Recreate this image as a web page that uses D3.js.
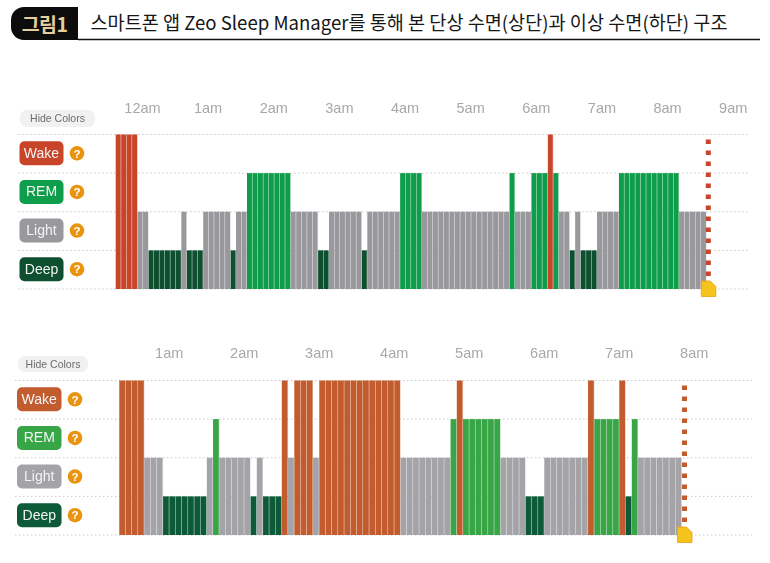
<!DOCTYPE html>
<html><head><meta charset="utf-8">
<script src="https://cdn.jsdelivr.net/npm/d3@7"></script>
<style>html,body{margin:0;padding:0;background:#fff}svg{display:block}</style>
</head><body><svg id="c" width="770" height="563"><defs><filter id="soft" x="-2%" y="-2%" width="104%" height="104%"><feGaussianBlur stdDeviation="0.4"/></filter></defs></svg>
<script>
const titleBadge = "그림1";
const titleText = "스마트폰 앱 Zeo Sleep Manager를 통해 본 단상 수면(상단)과 이상 수면(하단) 구조";
const stages = ["Wake","REM","Light","Deep"];

// run-length: stage and number of 5-minute epochs
const topRunStages = ["Wake","Light","Deep","Light","Deep","Light","Deep","Light","REM","Light","Deep","Light","Deep","Light","REM","Light","REM","Light","REM","Wake","REM","Light","Deep","Light","Deep","Light","REM","Light"];
const topRunLengths = [4,2,6,1,3,5,1,2,8,5,2,6,1,6,4,16,1,3,3,1,1,2,1,1,3,4,11,5];
const topHourLabels = ["12am","1am","2am","3am","4am","5am","6am","7am","8am","9am"];

const botRunStages = ["Wake","Light","Deep","Light","REM","Light","Deep","Light","Deep","Wake","Light","Wake","Light","Wake","Light","REM","Wake","REM","Light","Deep","Light","Wake","REM","Wake","Deep","REM","Light"];
const botRunLengths = [4,3,7,1,1,5,1,1,3,1,1,3,1,13,8,1,1,6,4,3,7,1,4,1,1,1,7];
const botHourLabels = ["1am","2am","3am","4am","5am","6am","7am","8am"];

const svg = d3.select("#c");
const sans = "'Liberation Sans',Arial,sans-serif";
const kr = "'Noto Sans CJK KR','Noto Sans',sans-serif";

// title
svg.append("path").attr("d","M78,7H24a13,13 0 0 0 -13,13V27a13,13 0 0 0 13,13H78Z").attr("fill","#0c0c0c");
svg.append("text").attr("x",44.5).attr("y",31.5).attr("text-anchor","middle").attr("font-family",kr).attr("font-weight",700).attr("font-size",19.5).attr("letter-spacing",-0.6).attr("fill","#e6cf9c").text(titleBadge);
svg.append("text").attr("x",90.5).attr("y",30).attr("font-family",kr).attr("font-weight",400).attr("font-size",19).attr("textLength",637).attr("lengthAdjust","spacingAndGlyphs").attr("fill","#161616").text(titleText);
svg.append("line").attr("x1",78).attr("x2",760).attr("y1",39.5).attr("y2",39.5).attr("stroke","#111").attr("stroke-width",1.5);

function hypnogram(o){
  const g = svg.append("g").attr("filter","url(#soft)");
  const x = d3.scaleLinear().domain([0,1]).range([o.x0,o.x0+o.epoch]);
  const y = d3.scalePoint().domain(stages.concat(["base"])).range([o.yTop,o.yBase]);
  const seq = o.runStages.flatMap((s,i)=>d3.range(o.runLengths[i]).map(()=>s));

  // grid
  g.append("g").selectAll("line").data(y.domain()).join("line")
    .attr("x1",o.gridX0).attr("x2",o.gridX1).attr("y1",d=>y(d)).attr("y2",d=>y(d))
    .attr("stroke","#c8c8c8").attr("stroke-width",1).attr("stroke-dasharray","1.5 2.5");

  // hour labels via axis
  const ax = d3.axisTop(x).tickValues(o.hourLabels.map((_,i)=>o.firstHour+i*12)).tickFormat((_,i)=>o.hourLabels[i]).tickSize(0).tickPadding(0);
  const axg = g.append("g").attr("transform",`translate(0,${o.labelY})`).call(ax);
  axg.select(".domain").remove();
  axg.selectAll("text").attr("font-family",sans).attr("font-size",14.5).attr("fill","#a8a8a8");

  // bars
  g.append("g").selectAll("rect").data(seq).join("rect")
    .attr("x",(d,i)=>x(i)).attr("width",o.epoch-0.5)
    .attr("y",d=>y(d)).attr("height",d=>o.yBase-y(d))
    .attr("fill",d=>o.colors[d]);
  // joining strip so the light seams stay pale rather than white
  g.append("g").selectAll("rect").data(seq).join("rect")
    .attr("x",(d,i)=>x(i)+o.epoch-0.5).attr("width",0.5)
    .attr("y",d=>y(d)).attr("height",d=>o.yBase-y(d))
    .attr("fill",d=>o.colors[d]).attr("opacity",0.35);

  // legend
  const lg = g.append("g");
  const pill = lg.append("g");
  pill.append("rect").attr("x",o.pill[0]).attr("y",o.pill[1]).attr("width",o.pill[2]).attr("height",o.pill[3]).attr("rx",7).attr("fill","#f1f1f1");
  pill.append("text").attr("x",o.pill[0]+o.pill[2]/2).attr("y",o.pill[1]+o.pill[3]/2+3.7).attr("text-anchor","middle").attr("font-family",sans).attr("font-size",10.5).attr("fill","#6c6c6c").text("Hide Colors");
  const rows = lg.selectAll("g.row").data(stages).join("g").attr("class","row");
  const cy = d=>(y(d)+y(stages[stages.indexOf(d)+1]||"base"))/2;
  rows.append("rect").attr("x",o.btnX).attr("y",d=>cy(d)-12.5).attr("width",o.btnW).attr("height",24).attr("rx",5).attr("fill",d=>o.colors[d]);
  rows.append("text").attr("x",o.btnX+o.btnW/2).attr("y",d=>cy(d)+4).attr("text-anchor","middle").attr("font-family",sans).attr("font-size",14).attr("fill","#f4f4f4").text(d=>d);
  rows.append("circle").attr("cx",o.icoX).attr("cy",d=>cy(d)-0.5).attr("r",7.3).attr("fill","#ea930e");
  rows.append("text").attr("x",o.icoX).attr("y",d=>cy(d)+3.7).attr("text-anchor","middle").attr("font-family",sans).attr("font-weight",700).attr("font-size",11.5).attr("fill","#fff").text("?");

  // bedtime/rise marker
  g.append("line").attr("x1",o.endX).attr("x2",o.endX).attr("y1",o.yTop+5).attr("y2",o.yBase-3)
    .attr("stroke",o.colors.Wake).attr("stroke-width",5).attr("stroke-dasharray","4.6 6.4");
  const mx=o.endX-7, my=o.yBase-8;
  g.append("path").attr("d",`M${mx},${my}H${mx+9}L${mx+14.5},${my+5.5}V${my+15.5}H${mx}Z`).attr("fill","#f6c21a").attr("stroke","#e8a012").attr("stroke-width",0.8);
}

hypnogram({x0:115.7,epoch:5.47,yTop:134.5,yBase:289,gridX0:18,gridX1:750,labelY:112.5,firstHour:4.8,
  runStages:topRunStages,runLengths:topRunLengths,hourLabels:topHourLabels,
  colors:{Wake:"#c8452b",REM:"#0f9d4b",Light:"#98989d",Deep:"#0b4f2f"},
  pill:[20,110,75,17],btnX:19.5,btnW:44,icoX:77,endX:708.3});
hypnogram({x0:119.3,epoch:6.25,yTop:380.5,yBase:535,gridX0:15,gridX1:752,labelY:358,firstHour:7.9,
  runStages:botRunStages,runLengths:botRunLengths,hourLabels:botHourLabels,
  colors:{Wake:"#c25b2d",REM:"#38a646",Light:"#a3a3a8",Deep:"#0b5a37"},
  pill:[18,356,70,16],btnX:17,btnW:44.5,icoX:75,endX:684.5});
</script></body></html>
